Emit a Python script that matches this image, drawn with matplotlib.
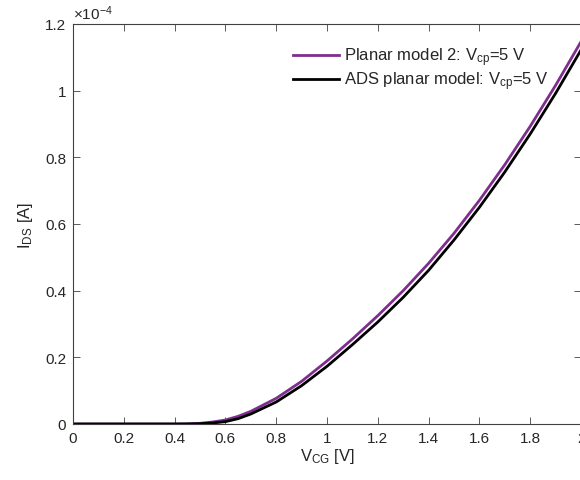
import numpy as np
import matplotlib
matplotlib.use('Agg')
import matplotlib.pyplot as plt
from matplotlib.ticker import FuncFormatter

# gate voltage [V]
vcg = [0.0, 0.1, 0.2, 0.3, 0.4, 0.45, 0.5, 0.55, 0.6, 0.65, 0.7, 0.8, 0.9,
       1.0, 1.1, 1.2, 1.3, 1.4, 1.5, 1.6, 1.7, 1.8, 1.9, 2.0]
# drain current, in units of 1e-4 A
ids_planar2 = [0, 0, 0, 0, 0, 0.0005, 0.002, 0.006, 0.012, 0.023, 0.038, 0.077, 0.128,
               0.189, 0.255, 0.325, 0.400, 0.482, 0.572, 0.671, 0.778, 0.893, 1.016, 1.147]
ids_ads = [0, 0, 0, 0, 0, 0.0002, 0.001, 0.003, 0.007, 0.016, 0.030, 0.066, 0.115,
           0.173, 0.238, 0.306, 0.380, 0.461, 0.552, 0.650, 0.756, 0.870, 0.992, 1.122]

labels = [r'Planar model 2: V$_{\rm cp}$=5 V', r'ADS planar model: V$_{\rm cp}$=5 V']
colors = ['#7E2F8E', 'k']

plt.rcParams['font.family'] = ['Liberation Sans', 'DejaVu Sans']
plt.rcParams['mathtext.fontset'] = 'custom'
plt.rcParams['mathtext.rm'] = 'Liberation Sans'
plt.rcParams['mathtext.it'] = 'Liberation Sans:italic'

txt = '#262626'
fig = plt.figure(figsize=(5.8, 4.81), dpi=100)
ax = fig.add_axes([73/580, 1-425/481, 508/580, 400/481])

ax.plot(vcg, ids_planar2, c=colors[0], lw=2.0, label=labels[0])
ax.plot(vcg, ids_ads, c=colors[1], lw=2.0, label=labels[1])

ax.set_xlim(0, 2)
ax.set_ylim(0, 1.2)
ax.set_xticks(np.arange(0, 2.01, 0.2))
ax.set_yticks(np.arange(0, 1.21, 0.2))
fmt = FuncFormatter(lambda v, p: '%g' % round(v, 6))
ax.xaxis.set_major_formatter(fmt)
ax.yaxis.set_major_formatter(fmt)
ax.tick_params(direction='in', length=5, width=0.6, colors='#404040',
               labelcolor=txt, labelsize=11, top=True, right=True, pad=5)
for s in ax.spines.values():
    s.set_color('#404040')
    s.set_linewidth(0.8)

ax.set_xlabel(r'V$_{\rm CG}$ [V]', fontsize=12, color=txt, labelpad=1)
ax.set_ylabel(r'I$_{\rm DS}$ [A]', fontsize=12, color=txt, labelpad=7)
ax.text(0.0, 1.005, r'$\times$10$^{-4}$', transform=ax.transAxes, fontsize=11,
        color=txt, ha='left', va='bottom')

leg = ax.legend(loc='upper right', bbox_to_anchor=((555-73)/508, (425-40)/400),
                frameon=False, fontsize=12, handlelength=2.75, handletextpad=0.3,
                labelspacing=0.08, borderaxespad=0)
for t in leg.get_texts():
    t.set_color(txt)

fig.savefig('out.png', dpi=100)
